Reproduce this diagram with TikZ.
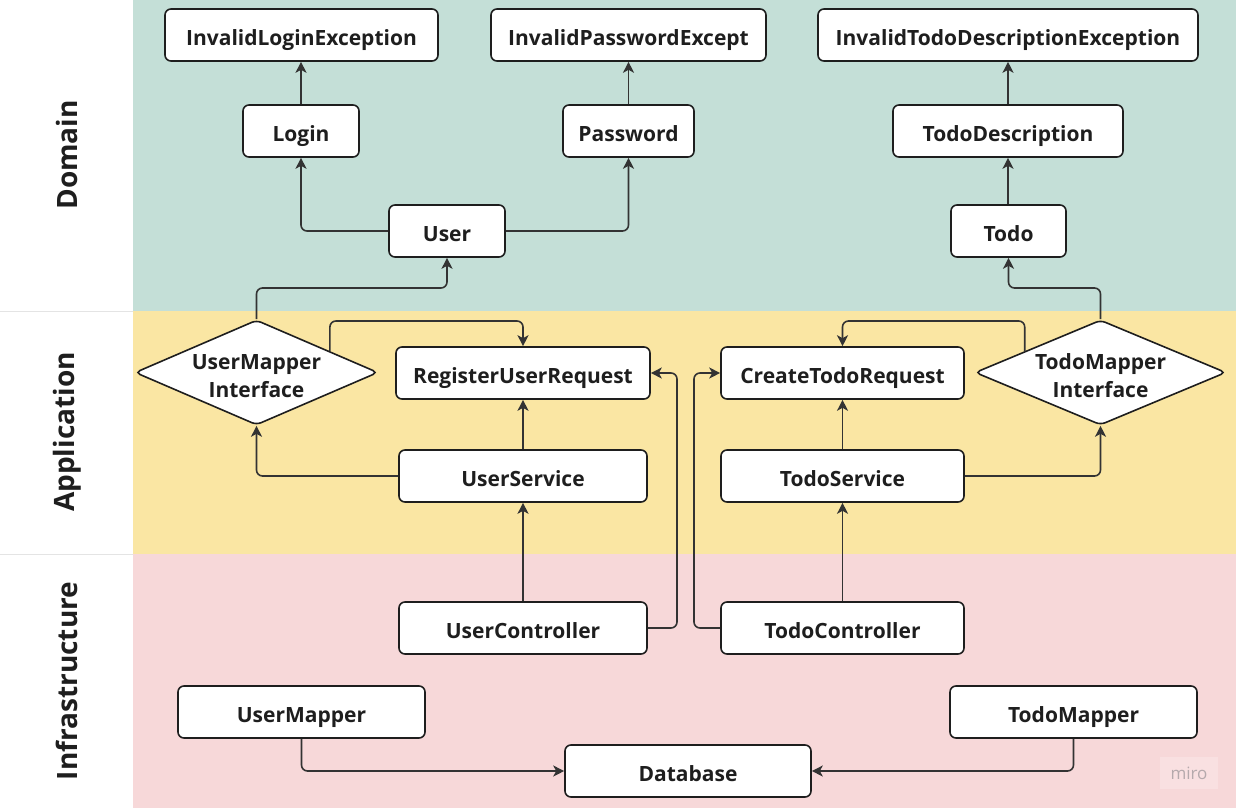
\documentclass[tikz,border=0pt]{standalone}
\usepackage{fontspec}
\setmainfont{Open Sans}
\usetikzlibrary{shapes.geometric,arrows.meta,calc}
\definecolor{dom}{HTML}{C4DFD7}
\definecolor{app}{HTML}{FAE6A3}
\definecolor{inf}{HTML}{F7D8D9}
\definecolor{ink}{HTML}{1E1E1E}
\definecolor{edgec}{HTML}{333333}
\definecolor{sep}{HTML}{E4E4E4}
\definecolor{logo}{HTML}{B5A9AC}
\definecolor{logobg}{HTML}{F9E0E1}
\newcommand{\dtext}[2]{\raisebox{-10.5pt}[24pt][24pt]{\makebox[120pt]{\begin{tabular}{@{}c@{}}#1\\#2\end{tabular}}}}
\begin{document}
\begin{tikzpicture}[x=1pt,y=-1pt,
 box/.style={draw=ink, line width=1.6pt, fill=white, rounded corners=6pt, minimum height=52pt, inner sep=0pt, text height=21pt, text depth=0pt, font=\fontsize{21}{25}\selectfont\bfseries, text=ink},
 dia/.style={diamond, draw=ink, line width=1.6pt, fill=white, rounded corners=5pt, aspect=2.31, inner sep=0pt, minimum width=243pt, minimum height=105pt, font=\fontsize{21}{28}\selectfont\bfseries, text=ink},
 arr/.style={draw=edgec, line width=1.6pt, rounded corners=6pt, -{Stealth[length=11pt,width=11pt,inset=3pt]}},
 band/.style={font=\fontsize{28}{30}\selectfont\bfseries, text=ink, rotate=90}
]
\useasboundingbox (0,0) rectangle (1236,808);
% backgrounds
\fill[white] (0,0) rectangle (1236,808);
\fill[dom] (133,0) rectangle (1236,311);
\fill[app] (133,311) rectangle (1236,554);
\fill[inf] (133,554) rectangle (1236,808);
\draw[sep, line width=1pt] (0,311) -- (133,311);
\draw[sep, line width=1pt] (0,554) -- (133,554);
\node[band] (ldom) at (67,155) {Domain};
\node[band] (lapp) at (67,432) {Application};
\node[band] (linf) at (67,681) {Infrastructure};
% helper coordinates
\coordinate (y288) at (0,288);
\coordinate (y321) at (0,321);
\coordinate (x677) at (677,0);
\coordinate (x694) at (694,0);
% domain
\node[box, minimum width=273pt] (ile) at (301.5,35) {InvalidLoginException};
\node[box, minimum width=275pt] (ipe) at (628.5,35) {InvalidPasswordExcept};
\node[box, minimum width=380pt] (itde) at (1008,35) {InvalidTodoDescriptionException};
\node[box, minimum width=116pt] (login) at (301,131) {Login};
\node[box, minimum width=131pt] (pw) at (628.5,131) {Password};
\node[box, minimum width=230pt] (td) at (1008,131) {TodoDescription};
\node[box, minimum width=116pt] (user) at (447,231) {User};
\node[box, minimum width=115pt] (todo) at (1008.5,231) {Todo};
% application
\node[dia] (umi) at (256.5,372.5) {\dtext{UserMapper}{Interface}};
\node[dia, minimum width=251pt] (tmi) at (1100.5,372.5) {\dtext{TodoMapper}{Interface}};
\node[box, minimum width=254pt] (rur) at (523,373) {RegisterUserRequest};
\node[box, minimum width=243pt] (ctr) at (842.5,373) {CreateTodoRequest};
\node[box, minimum width=248pt] (us) at (523,476) {UserService};
\node[box, minimum width=243pt] (ts) at (842.5,476) {TodoService};
% infrastructure
\node[box, minimum width=248pt] (uc) at (523,628) {UserController};
\node[box, minimum width=243pt] (tc) at (842.5,628) {TodoController};
\node[box, minimum width=247pt] (um) at (301.5,712) {UserMapper};
\node[box, minimum width=247pt] (tm) at (1073.5,712) {TodoMapper};
\node[box, minimum width=246pt] (db) at (688,771) {Database};
% logo
\node[fill=logobg, minimum width=58pt, minimum height=32pt, inner sep=0pt, text=logo, font=\fontsize{17}{18}\selectfont] (miro) at (1189,773) {miro};
% connectors
\draw[arr] (login.north) -- (login.north |- ile.south);
\draw[arr] (pw.north) -- (pw.north |- ipe.south);
\draw[arr] (td.north) -- (td.north |- itde.south);
\draw[arr] (todo.north -| td.north) -- (td.south);
\draw[arr] (user.west) -| (login.south);
\draw[arr] (user.east) -| (pw.south);
\draw[arr] (umi.north) -- (umi.north |- y288) -- (user.south |- y288) -- (user.south);
\draw[arr] (tmi.north) -- (tmi.north |- y288) -- (todo.south |- y288) -- (todo.south);
\coordinate (umiR) at ($(umi.north)!0.6!(umi.east)$);
\coordinate (tmiL) at ($(tmi.north)!0.6!(tmi.west)$);
\draw[arr] (umiR) -- (umiR |- y321) -- (rur.north |- y321) -- (rur.north);
\draw[arr] (tmiL) -- (tmiL |- y321) -- (ctr.north |- y321) -- (ctr.north);
\draw[arr] (us.west) -| (umi.south);
\draw[arr] (ts.east) -| (tmi.south);
\draw[arr] (us.north) -- (rur.south);
\draw[arr] (ts.north) -- (ctr.south);
\draw[arr] (uc.north) -- (us.south);
\draw[arr] (tc.north) -- (ts.south);
\draw[arr] (uc.east) -- (uc.east -| x677) -- (x677 |- rur.east) -- (rur.east);
\draw[arr] (tc.west) -- (tc.west -| x694) -- (x694 |- ctr.west) -- (ctr.west);
\draw[arr] (um.south) |- (db.west);
\draw[arr] (tm.south) |- (db.east);
\end{tikzpicture}
\end{document}
